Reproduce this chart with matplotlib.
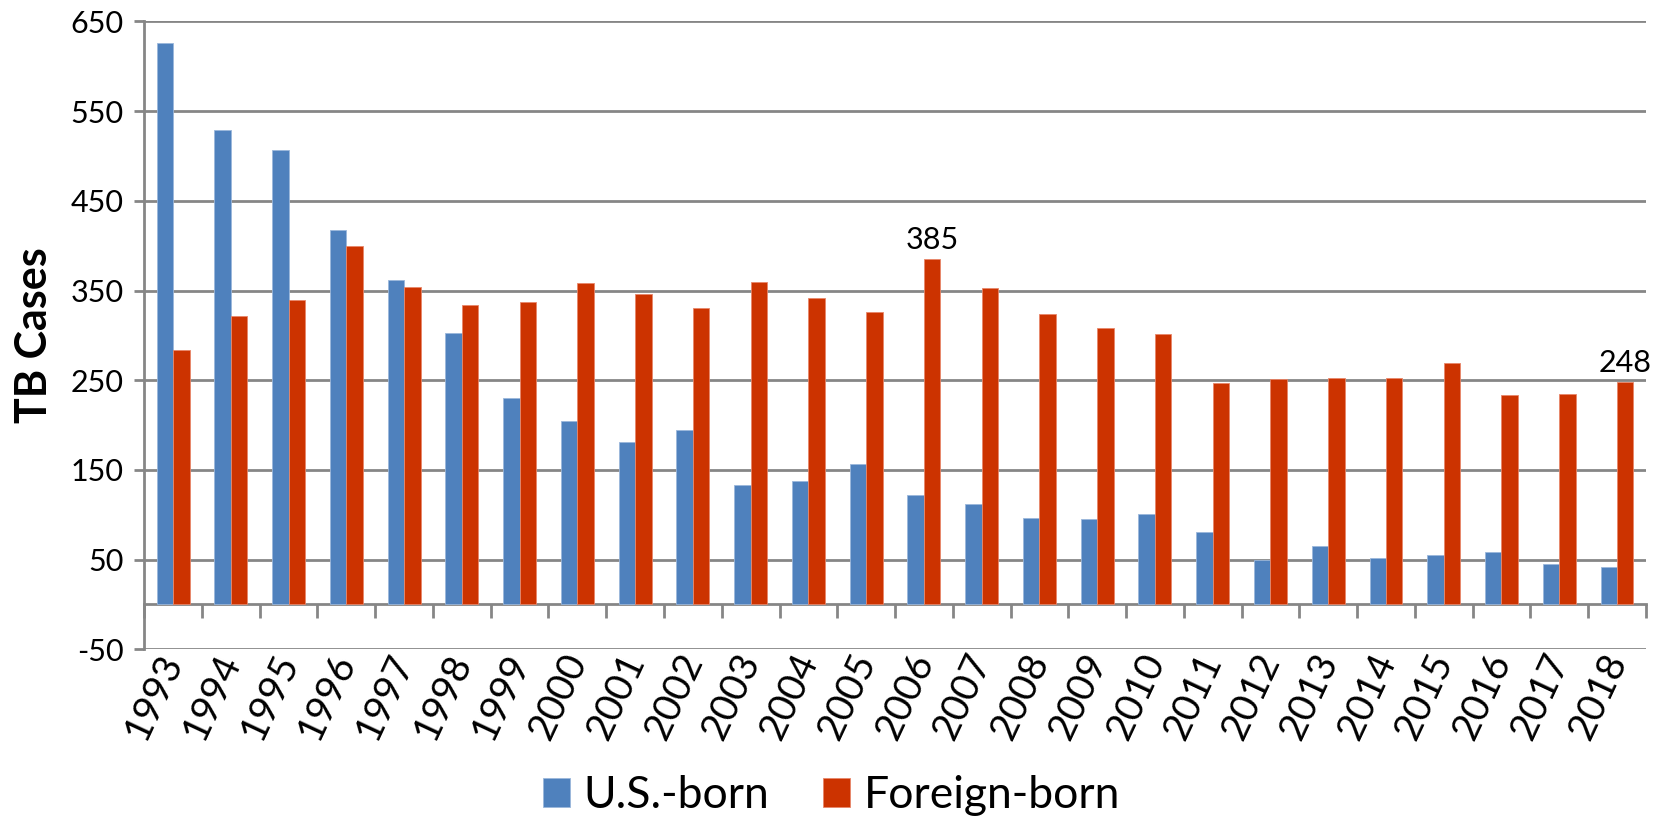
import matplotlib
matplotlib.use("Agg")
import matplotlib.pyplot as plt
import numpy as np

plt.rcParams["font.family"] = ["Lato", "DejaVu Sans"]
plt.rcParams["axes.unicode_minus"] = False

years = [str(y) for y in range(1993, 2019)]
us_born = [626, 529, 507, 418, 362, 303, 230, 204, 181, 195, 133, 138, 157,
           122, 112, 96, 95, 101, 81, 50, 65, 52, 55, 59, 45, 42]
foreign_born = [284, 322, 339, 400, 354, 334, 337, 358, 346, 331, 359, 342, 326,
                385, 353, 324, 308, 302, 247, 251, 252, 253, 269, 233, 235, 248]
labelled_years = ["2006", "2018"]

blue = "#4F81BD"
red = "#CC3300"
grid_gray = "#868686"

fig = plt.figure(figsize=(16.63, 8.24), dpi=100)
ax = fig.add_axes([0.0867, 0.212, 0.903, 0.762])

x = np.arange(len(years))
w = 0.285
ax.bar(x - w / 2, us_born, w, color=blue, edgecolor="#9BB7DB", linewidth=0.6,
       label="U.S.-born", zorder=3)
ax.bar(x + w / 2, foreign_born, w, color=red, edgecolor="#E8876A", linewidth=0.6,
       label="Foreign-born", zorder=3)

for yr in labelled_years:
    i = years.index(yr)
    ax.text(x[i] + w / 2, foreign_born[i] + 6, str(foreign_born[i]),
            ha="center", va="bottom", fontsize=22, zorder=4)

ax.set_xlim(-0.5, len(years) - 0.5)
ax.set_ylim(-50, 650)
ax.set_yticks(range(-50, 651, 100))
ax.yaxis.grid(True, color=grid_gray, linewidth=2, zorder=0)
ax.set_axisbelow(True)

for side in ["top", "right"]:
    ax.spines[side].set_visible(False)
ax.spines["left"].set_color(grid_gray)
ax.spines["left"].set_linewidth(2)
ax.spines["bottom"].set_position(("data", 0))
ax.spines["bottom"].set_color(grid_gray)
ax.spines["bottom"].set_linewidth(2)

ax.tick_params(axis="y", which="major", length=7, width=2, color=grid_gray,
               labelsize=22, pad=8)
ax.set_xticks(x)
ax.set_xticklabels(years, fontsize=28, rotation=65,
                   rotation_mode="anchor", ha="right", va="center")
ax.tick_params(axis="x", which="major", length=0, pad=37)
ax.set_xticks(np.arange(-0.5, len(years), 1.0), minor=True)
ax.tick_params(axis="x", which="minor", length=10, width=2, color=grid_gray,
               direction="out")

ax.set_ylabel("TB Cases", fontsize=31, fontweight="bold", labelpad=12)

fig.legend(loc="lower center", bbox_to_anchor=(0.5, -0.028), ncol=2, frameon=False,
           fontsize=32, handlelength=0.62, handleheight=0.62, borderpad=0.2,
           handletextpad=0.3, columnspacing=1.2)

fig.savefig("out.png", dpi=100)
